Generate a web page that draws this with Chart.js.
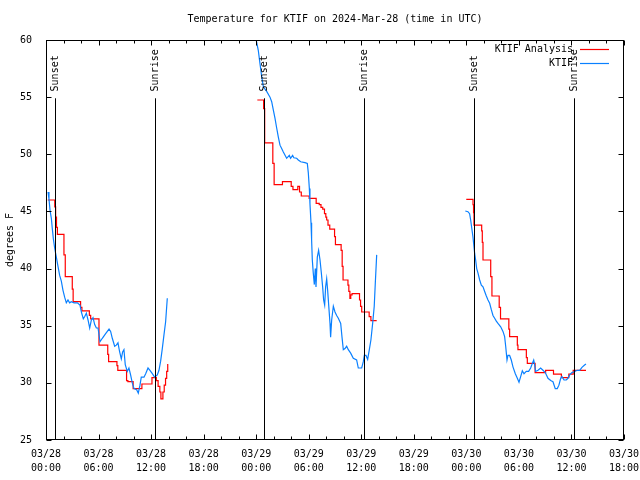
<!DOCTYPE html>
<html>
<head>
<meta charset="utf-8">
<script src="https://cdn.jsdelivr.net/npm/chart.js@4/dist/chart.umd.min.js"></script>
<style>
html,body{margin:0;padding:0;background:#fff;}
#wrap{width:640px;height:480px;}
</style>
</head>
<body>
<div id="wrap"><canvas id="c" width="640" height="480"></canvas></div>
<script>
const FONT = "'DejaVu Sans Mono', 'Liberation Mono', monospace";
const chartTitle = 'Temperature for KTIF on 2024-Mar-28 (time in UTC)';
const yAxisTitle = 'degrees F';
const seriesNames = ['KTIF Analysis', 'KTIF'];
const seriesColors = ['#ff0000', '#0a80ff'];

// x tick labels (hours since 03/28 00:00 UTC, every 6 h)
const xTickDates = ['03/28','03/28','03/28','03/28','03/29','03/29','03/29','03/29','03/30','03/30','03/30','03/30'];
const xTickTimes = ['00:00','06:00','12:00','18:00','00:00','06:00','12:00','18:00','00:00','06:00','12:00','18:00'];

// Sun events (hours since 03/28 00:00 UTC)
const sunsetHours = [0.98, 24.92, 48.85];
const sunriseHours = [12.45, 36.35, 60.25];

// KTIF Analysis (hours, deg F); null = gap between days
const analysisHours = [
  0.2,1.0,1.1,1.2,1.3,2.05,2.2,3.0,3.1,3.95,4.1,4.95,5.1,6.05,7.05,7.15,8.1,8.2,9.2,9.35,9.95,10.95,12.1,12.6,12.8,13.0,13.12,13.35,13.5,13.65,13.78,13.9,
  18,
  24.13,24.85,24.97,25.9,26.05,27.0,28.0,28.2,28.75,28.95,29.15,30.05,30.85,31.2,31.4,31.6,31.8,31.95,32.05,32.2,32.4,32.95,33.05,33.7,33.82,33.92,34.48,34.58,34.7,34.8,34.95,35.8,35.92,36.05,36.9,37.1,37.76,
  42,
  47.99,48.76,48.82,48.87,49.75,49.82,49.9,50.78,50.92,51.75,51.9,52.85,52.94,53.82,53.89,54.85,54.96,55.85,57.05,57.95,58.85,59.7,60.2,61.66
];
const analysisTemps = [
  46.0,45.4,44.5,43.6,43.0,41.2,39.3,38.2,37.1,36.6,36.3,35.9,35.6,33.3,32.5,31.85,31.5,31.1,30.2,30.1,29.5,29.9,30.45,30.2,29.7,29.2,28.6,29.2,29.8,30.4,31.0,31.65,
  null,
  54.75,54.0,51.0,49.2,47.35,47.6,47.2,46.9,47.2,46.7,46.35,46.15,45.7,45.6,45.35,45.2,44.8,44.5,44.25,43.8,43.45,42.8,42.1,41.6,40.2,39.0,38.56,38.0,37.4,37.7,37.8,37.25,36.7,36.2,35.8,35.45,35.45,
  null,
  46.06,45.6,44.9,43.8,43.3,42.3,40.75,39.3,37.6,36.6,35.6,34.7,34.04,33.3,32.9,32.2,31.7,30.9,31.1,30.77,30.45,30.77,31.1,31.1
];

// KTIF observations (hours, deg F)
const obsHours = [
  0.23,0.34,0.46,0.61,0.72,0.84,0.99,1.18,1.37,1.56,1.75,1.94,2.13,2.32,2.51,2.7,2.89,3.2,3.58,3.88,4.04,4.26,4.42,4.61,4.8,4.99,5.18,5.37,5.56,5.75,5.94,6.17,6.43,6.81,7.2,7.38,7.57,7.84,8.03,8.22,8.41,8.6,8.75,8.9,9.05,9.28,9.47,9.66,9.85,10.05,10.35,10.54,10.73,10.88,11.19,11.38,11.65,11.87,12.14,12.4,12.71,12.9,13.09,13.28,13.47,13.66,13.85,
  18,
  23.95,24.24,24.43,24.63,24.82,25.2,25.58,25.77,25.95,26.15,26.34,26.53,26.72,26.91,27.1,27.48,27.78,27.93,28.16,28.3,28.62,28.81,29.08,29.57,29.84,29.95,30.07,30.14,30.26,30.33,30.41,30.52,30.64,30.75,30.83,30.98,31.13,31.29,31.43,31.59,31.7,31.82,31.93,32.05,32.16,32.28,32.43,32.5,32.62,32.81,33.0,33.19,33.38,33.65,33.8,33.95,34.14,34.33,34.52,34.79,35.09,35.47,35.66,36.05,36.23,36.35,36.54,36.73,36.92,37.1,37.3,37.48,37.6,37.76,
  42,
  47.88,48.18,48.37,48.49,48.64,48.75,48.83,48.95,49.06,49.18,49.33,49.52,49.71,49.9,50.09,50.28,50.47,50.66,50.85,51.04,51.23,51.42,51.61,51.92,52.18,52.37,52.49,52.64,52.75,52.94,53.13,53.32,53.59,53.82,54.01,54.2,54.39,54.58,54.84,55.11,55.34,55.53,55.69,55.8,55.91,56.18,56.48,56.75,57.01,57.32,57.63,57.89,58.15,58.38,58.57,58.77,58.92,59.15,59.41,59.6,59.8,60.06,60.37,60.66,60.94,61.2,61.5,61.66
];
const obsTemps = [
  46.7,46.1,45.1,44.4,43.5,42.6,41.8,41.0,40.2,39.4,38.9,38.1,37.5,37.0,37.25,37.0,37.1,37.0,37.0,36.8,36.2,35.6,35.8,36.1,35.5,34.8,35.5,35.7,35.1,34.8,34.8,33.6,33.9,34.3,34.7,34.5,33.9,33.2,33.3,33.5,32.7,32.1,32.7,32.9,31.6,31.0,31.3,30.7,30.0,29.5,29.4,29.1,29.8,30.5,30.5,30.8,31.3,31.1,30.8,30.5,30.7,31.1,31.9,33.0,34.2,35.35,37.4,
  null,
  60.2,59.1,57.96,56.8,55.9,55.5,55.0,54.6,53.9,53.15,52.3,51.5,50.8,50.5,50.2,49.65,49.9,49.65,49.9,49.7,49.65,49.5,49.35,49.27,49.2,48.4,47.0,45.7,44.0,42.5,40.75,39.6,38.6,40.0,38.4,41.0,41.6,40.75,39.7,38.4,37.25,36.8,38.4,39.1,38.1,36.8,35.2,34.0,35.5,36.7,36.2,35.9,35.65,35.2,34.0,32.9,33.0,33.2,32.9,32.6,32.15,32.0,31.3,31.3,31.85,32.4,32.4,32.05,32.9,33.75,35.2,36.7,38.7,41.2,
  null,
  45.04,44.98,44.8,44.25,43.4,42.8,42.2,41.3,40.75,40.0,39.6,39.0,38.55,38.4,38.0,37.6,37.25,36.96,36.4,35.9,35.65,35.4,35.2,34.9,34.5,34.04,33.2,32.0,32.4,32.4,32.0,31.4,30.8,30.4,30.05,30.55,31.06,30.8,31.0,31.0,31.3,31.7,32.0,31.56,31.0,31.1,31.3,31.1,30.9,30.4,30.2,30.1,29.5,29.5,29.8,30.4,30.55,30.25,30.25,30.4,30.7,30.9,31.0,31.1,31.1,31.36,31.56,31.65
];

const X_MIN = 0, X_MAX = 66, X_STEP = 6, X_MINOR = 2;
const Y_MIN = 25, Y_MAX = 60, Y_STEP = 5;
const SUN_LINE_TOP = 54.9, SUN_LABEL_BASE = 55.5;

const toPoints = (hs, vs) => hs.map((h, i) => ({x: h, y: vs[i]}));

Chart.defaults.color = '#000';
Chart.defaults.font.family = FONT;
Chart.defaults.font.size = 10;

const overlay = {
  id: 'overlay',
  afterDatasetsDraw(chart) {
    const {ctx, chartArea: a} = chart;
    const xs = chart.scales.x, ys = chart.scales.y;
    ctx.save();
    ctx.lineWidth = 1;
    ctx.strokeStyle = '#000';
    ctx.fillStyle = '#000';
    // sun lines
    const events = sunsetHours.map(h => [h, 'Sunset']).concat(sunriseHours.map(h => [h, 'Sunrise']));
    const yTop = ys.getPixelForValue(SUN_LINE_TOP), yBot = ys.getPixelForValue(Y_MIN);
    ctx.beginPath();
    events.forEach(([h]) => {
      const px = Math.round(xs.getPixelForValue(h)) + 0.5;
      ctx.moveTo(px, yTop); ctx.lineTo(px, yBot);
    });
    ctx.stroke();
    ctx.font = '10px ' + FONT;
    ctx.textAlign = 'left';
    ctx.textBaseline = 'middle';
    events.forEach(([h, t]) => {
      const px = Math.round(xs.getPixelForValue(h)) + 0.5;
      ctx.save();
      ctx.translate(px, ys.getPixelForValue(SUN_LABEL_BASE));
      ctx.rotate(-Math.PI / 2);
      ctx.fillText(t, 0, 0);
      ctx.restore();
    });
    // frame
    const L = Math.round(a.left) + 0.5, R = Math.round(a.right) - 0.5;
    const T = Math.round(a.top) + 0.5, B = Math.round(a.bottom) - 0.5;
    ctx.strokeStyle = '#000';
    ctx.strokeRect(L, T, R - L, B - T);
    // ticks (inward)
    ctx.beginPath();
    for (let h = X_MIN; h <= X_MAX; h += X_MINOR) {
      const px = Math.round(xs.getPixelForValue(h)) + 0.5;
      const len = (h % X_STEP === 0) ? 5 : 3;
      ctx.moveTo(px, B); ctx.lineTo(px, B - len);
      ctx.moveTo(px, T); ctx.lineTo(px, T + len);
    }
    for (let v = Y_MIN; v <= Y_MAX; v += Y_STEP) {
      const py = Math.round(ys.getPixelForValue(v)) + 0.5;
      ctx.moveTo(L, py); ctx.lineTo(L + 5, py);
      ctx.moveTo(R, py); ctx.lineTo(R - 5, py);
    }
    ctx.stroke();
    // legend
    ctx.textAlign = 'right';
    ctx.textBaseline = 'middle';
    seriesNames.forEach((name, i) => {
      const ty = Math.round(a.top + 9 + i * 13.5);
      ctx.fillStyle = '#000';
      ctx.fillText(name, a.right - 51, ty);
      ctx.strokeStyle = seriesColors[i];
      ctx.lineWidth = 1.2;
      ctx.beginPath();
      ctx.moveTo(a.right - 44, ty + 0.5);
      ctx.lineTo(a.right - 15, ty + 0.5);
      ctx.stroke();
    });
    ctx.restore();
  }
};

new Chart(document.getElementById('c'), {
  type: 'line',
  data: {
    datasets: [
      {
        label: seriesNames[0],
        data: toPoints(analysisHours, analysisTemps),
        borderColor: seriesColors[0],
        borderWidth: 1.2,
        pointRadius: 0,
        stepped: 'before',
        spanGaps: false,
        order: 1
      },
      {
        label: seriesNames[1],
        data: toPoints(obsHours, obsTemps),
        borderColor: seriesColors[1],
        borderWidth: 1.2,
        pointRadius: 0,
        tension: 0,
        spanGaps: false,
        order: 0
      }
    ]
  },
  options: {
    responsive: false,
    animation: false,
    devicePixelRatio: 1,
    layout: { padding: { left: 0, right: 16, top: 0, bottom: 0 } },
    plugins: {
      legend: { display: false },
      tooltip: { enabled: false },
      title: {
        display: true,
        text: chartTitle,
        fullSize: false,
        color: '#000',
        font: { family: FONT, size: 10, weight: 'normal', lineHeight: 1.2 },
        padding: { top: 13, bottom: 15 }
      }
    },
    scales: {
      x: {
        type: 'linear',
        min: X_MIN, max: X_MAX,
        grid: { display: false },
        border: { display: false },
        ticks: {
          stepSize: X_STEP,
          autoSkip: false,
          maxRotation: 0,
          padding: -1,
          font: { family: FONT, size: 10, lineHeight: 1.4 },
          callback: (v) => {
            const i = Math.round((v - X_MIN) / X_STEP);
            return [xTickDates[i], xTickTimes[i]];
          }
        },
        afterFit: (s) => { s.height = 40; s.paddingLeft = 0; s.paddingRight = 0; }
      },
      y: {
        type: 'linear',
        min: Y_MIN, max: Y_MAX,
        grid: { display: false },
        border: { display: false },
        ticks: { stepSize: Y_STEP, padding: 6, font: { family: FONT, size: 10 } },
        title: {
          display: true,
          text: yAxisTitle,
          font: { family: FONT, size: 10, lineHeight: 1.2 },
          padding: { top: 4, bottom: 4 }
        },
        afterFit: (s) => { s.width = 46; s.paddingTop = 0; s.paddingBottom = 0; }
      }
    }
  },
  plugins: [overlay]
});
</script>
</body>
</html>
